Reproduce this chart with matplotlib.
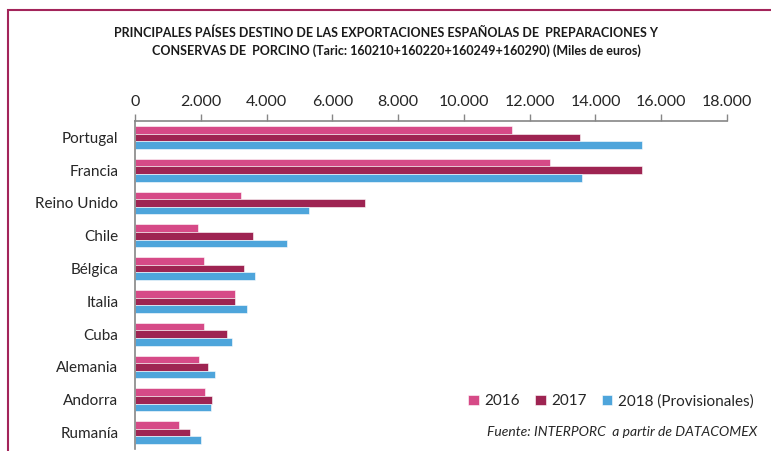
import matplotlib.pyplot as plt
import numpy as np
from matplotlib.patches import Rectangle
from matplotlib.ticker import FuncFormatter

# Export values (thousand euros) per destination country
paises = ["Portugal", "Francia", "Reino Unido", "Chile", "Bélgica",
          "Italia", "Cuba", "Alemania", "Andorra", "Rumanía"]
valores_2016 = [11470, 12630, 3210, 1910, 2110, 3040, 2090, 1950, 2140, 1340]
valores_2017 = [13540, 15420, 6980, 3590, 3310, 3040, 2800, 2210, 2330, 1670]
valores_2018 = [15420, 13600, 5300, 4610, 3650, 3400, 2940, 2430, 2320, 2000]
series = ["2016", "2017", "2018 (Provisionales)"]
colores = ["#D64A87", "#9E2452", "#4EA5DB"]
x_ticks = [0, 2000, 4000, 6000, 8000, 10000, 12000, 14000, 16000, 18000]

plt.rcParams["font.family"] = ["Lato", "DejaVu Sans"]

fig = plt.figure(figsize=(7.71, 4.51), dpi=100)
ax = fig.add_axes([135 / 771, 2 / 451, 592 / 771, 328 / 451])

# outer frame of the chart area (right and bottom edges fall outside the image)
fig.patches.append(Rectangle((8 / 771, -0.1), 1.0, 1 - 10 / 451 + 0.1,
                             transform=fig.transFigure, fill=False,
                             edgecolor="#A3245A", linewidth=1.5))

y = np.arange(len(paises))
h = 0.23
for i, (vals, col, lab) in enumerate(zip([valores_2016, valores_2017, valores_2018],
                                        colores, series)):
    ax.barh(y + (i - 1) * h, vals, height=h, color=col, label=lab,
            edgecolor="white", linewidth=0.4)

ax.set_ylim(len(paises) - 0.5, -0.5)
ax.set_xlim(0, 18000)
ax.set_yticks(y)
ax.set_yticklabels(paises, fontsize=11, color="#262626")
ax.tick_params(axis="y", length=0, pad=12)

ax.xaxis.tick_top()
ax.set_xticks(x_ticks)
ax.xaxis.set_major_formatter(FuncFormatter(lambda v, p: f"{int(v):,}".replace(",", ".")))
ax.tick_params(axis="x", length=5, width=1, color="#868686", labelsize=11.5,
               labelcolor="#262626", pad=4)

for s in ["right", "bottom"]:
    ax.spines[s].set_visible(False)
for s in ["top", "left"]:
    ax.spines[s].set_color("#868686")
    ax.spines[s].set_linewidth(1.2)

fig.text(386 / 771, 1 - 33 / 451,
         "PRINCIPALES PAÍSES DESTINO DE LAS EXPORTACIONES ESPAÑOLAS DE  PREPARACIONES Y",
         ha="center", va="center", fontsize=9, fontweight="bold", color="#1a1a1a")
fig.text(396 / 771, 1 - 51 / 451,
         "CONSERVAS DE  PORCINO (Taric: 160210+160220+160249+160290) (Miles de euros)",
         ha="center", va="center", fontsize=9, fontweight="bold", color="#1a1a1a")

ax.legend(loc="upper left", bbox_to_anchor=(468 / 771, 1 - 394 / 451),
          bbox_transform=fig.transFigure, ncol=3, frameon=False,
          fontsize=11, handlelength=0.7, handleheight=0.7,
          handletextpad=0.35, columnspacing=1.0, labelcolor="#262626",
          borderpad=0, borderaxespad=0)

fig.text(757 / 771, 1 - 432 / 451, "Fuente: INTERPORC  a partir de DATACOMEX",
         ha="right", va="center", fontsize=10, style="italic", color="#262626")

fig.savefig("out.png", dpi=100)
